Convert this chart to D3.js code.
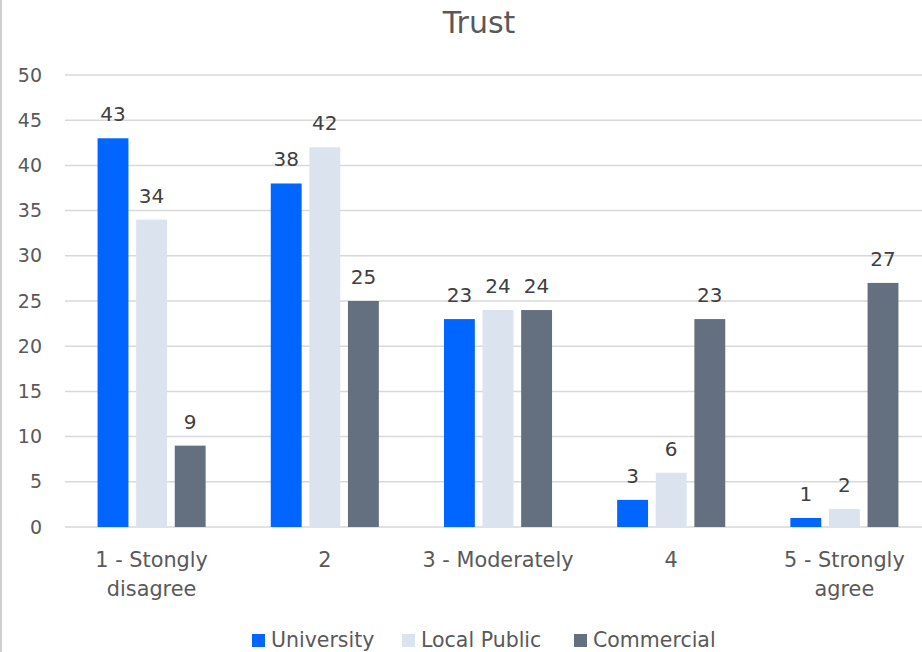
<!DOCTYPE html>
<html><head><meta charset="utf-8">
<script src="https://cdn.jsdelivr.net/npm/d3@7"></script>
<style>body{margin:0;background:#fff}svg{display:block;font-family:"DejaVu Sans",sans-serif}</style>
</head><body><svg id="c" width="922" height="652"></svg>
<script>
const categories = [["1 - Stongly","disagree"],["2"],["3 - Moderately"],["4"],["5 - Strongly","agree"]];
const seriesNames = ["University","Local Public","Commercial"];
const university = [43,38,23,3,1];
const localPublic = [34,42,24,6,2];
const commercial = [9,25,24,23,27];
const yTicks = [0,5,10,15,20,25,30,35,40,45,50];
const colors = ["#0066FF","#DAE3EE","#64707F"];

(function(){
const svg = d3.select("#c");
const values = [university, localPublic, commercial];
const pl = 65, pr = 931, pt = 75, pb = 527;

svg.append("line").attr("x1",1).attr("x2",1).attr("y1",0).attr("y2",652).attr("stroke","#bfbfbf").attr("stroke-width",1.5);

svg.append("text").attr("x",479).attr("y",33).attr("text-anchor","middle").attr("font-size",30).attr("fill","#595959").text("Trust");

const y = d3.scaleLinear().domain([0,50]).range([pb, pt]);
const x0 = d3.scaleBand().domain(d3.range(categories.length)).range([pl, pr]).paddingInner(0.376).paddingOuter(0.188);
const x1 = d3.scaleBand().domain(d3.range(3)).range([0, x0.bandwidth()]).paddingInner(0.2);

svg.append("g").selectAll("line").data(yTicks).join("line")
  .attr("x1",pl).attr("x2",pr).attr("y1",d=>y(d)).attr("y2",d=>y(d))
  .attr("stroke","#d9d9d9").attr("stroke-width",1.5);

const yAxis = d3.axisLeft(y).tickValues(yTicks).tickSize(0).tickPadding(0);
const ya = svg.append("g").attr("transform","translate(42,0)").call(yAxis);
ya.select(".domain").remove();
ya.selectAll("text").attr("font-size",19).attr("fill","#595959").attr("font-family","'DejaVu Sans',sans-serif");

const groups = svg.append("g").selectAll("g").data(categories).join("g")
  .attr("transform",(d,i)=>`translate(${x0(i)},0)`);
groups.each(function(d,i){
  const g = d3.select(this);
  values.forEach((arr,s)=>{
    g.append("rect").attr("x",x1(s)).attr("y",y(arr[i])).attr("width",x1.bandwidth())
      .attr("height",y(0)-y(arr[i])).attr("fill",colors[s]);
    g.append("text").attr("x",x1(s)+x1.bandwidth()/2).attr("y",y(arr[i])-17)
      .attr("text-anchor","middle").attr("font-size",20).attr("fill","#404040").text(arr[i]);
  });
  const t = g.append("text").attr("x",x0.bandwidth()/2).attr("y",567).attr("text-anchor","middle")
    .attr("font-size",20.8).attr("fill","#595959");
  d.forEach((line,k)=>t.append("tspan").attr("x",x0.bandwidth()/2).attr("dy",k?29:0).text(line));
});

const legX = [252,402,574];
const leg = svg.append("g").selectAll("g").data(seriesNames).join("g")
  .attr("transform",(d,i)=>`translate(${legX[i]},634)`);
leg.append("rect").attr("width",13).attr("height",13).attr("fill",(d,i)=>colors[i]);
leg.append("text").attr("x",19).attr("y",13).attr("font-size",20.5).attr("fill","#595959").text(d=>d);
})();
</script></body></html>
